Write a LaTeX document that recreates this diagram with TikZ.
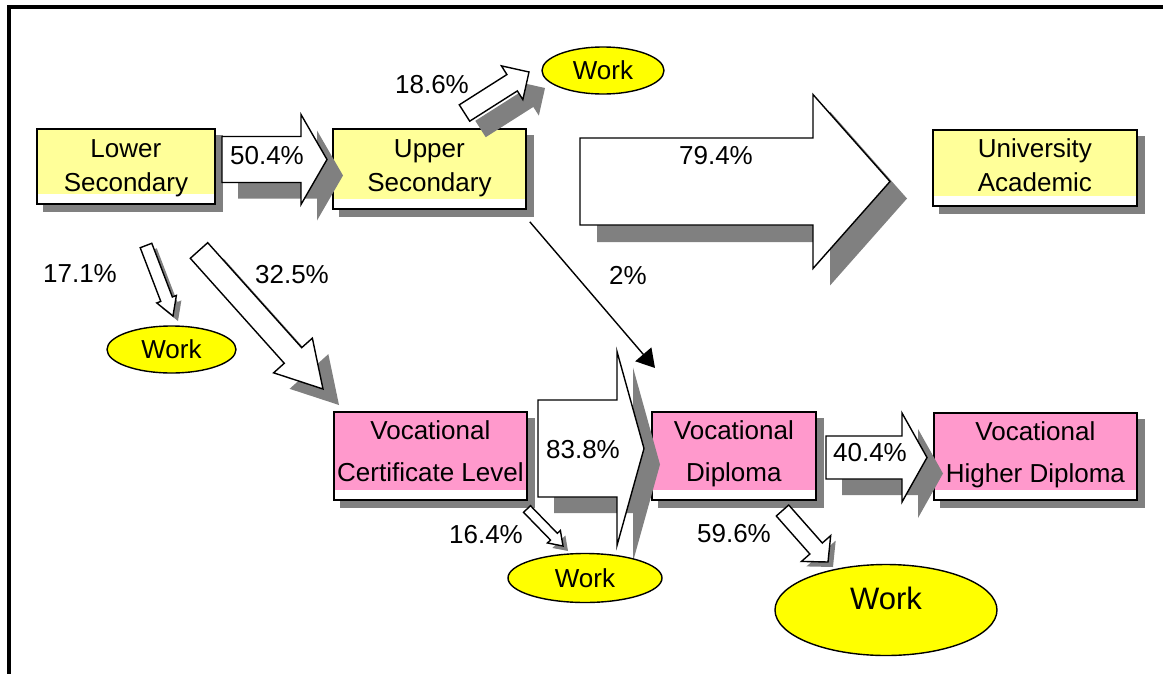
\documentclass[tikz,border=0pt]{standalone}
\usepackage{fontspec}
\setmainfont{Liberation Sans}
\usetikzlibrary{calc,shapes.geometric,arrows.meta}
\pgfdeclarelayer{background}
\pgfsetlayers{background,main}
\definecolor{ylw}{HTML}{FFFF99}
\definecolor{pnk}{HTML}{FF99CC}
\definecolor{wyl}{HTML}{FFFF00}
\definecolor{shadowgray}{HTML}{808080}
\newcommand\blockarrow[6]{%
  \coordinate (bh) at ($(#2)!#5pt!(#1)$);
  \coordinate (a1) at ($(#1)!#3pt!90:(#2)$);
  \coordinate (a2) at ($(#1)!#3pt!-90:(#2)$);
  \coordinate (b1) at ($(bh)!#3pt!90:(#2)$);
  \coordinate (b2) at ($(bh)!#3pt!-90:(#2)$);
  \coordinate (c1) at ($(bh)!#4pt!90:(#2)$);
  \coordinate (c2) at ($(bh)!#4pt!-90:(#2)$);
  \fill[shadowgray] ($(a1)+(#6,#6)$) -- ($(b1)+(#6,#6)$) -- ($(c1)+(#6,#6)$) -- ($(#2)+(#6,#6)$) -- ($(c2)+(#6,#6)$) -- ($(b2)+(#6,#6)$) -- ($(a2)+(#6,#6)$) -- cycle;
  \draw[barrow] (a1) -- (b1) -- (c1) -- (#2) -- (c2) -- (b2) -- (a2) -- cycle;
}
\begin{document}
\begin{tikzpicture}[x=1pt,y=-1pt,
  stage/.style={draw=black, line width=1.8pt, fill=white, inner sep=0pt, anchor=north west,
    path picture={\fill[#1] (path picture bounding box.north west) rectangle ([yshift=10pt]path picture bounding box.south east);}},
  ystage/.style={stage=ylw, font=\fontsize{26}{34}\selectfont},
  pstage/.style={stage=pnk, font=\fontsize{26}{42}\selectfont},
  barrow/.style={draw=black, fill=white, line width=1.4pt, line join=miter},
  work/.style={ellipse, draw=black, fill=wyl, line width=1.4pt, inner sep=0pt, font=\fontsize{26}{30}\selectfont},
  lbl/.style={inner sep=0pt, font=\fontsize{26}{30}\selectfont},
  frame/.style={line width=4pt, line cap=rect, line join=miter}
]
\useasboundingbox (0,0) rectangle (1163,673);
\draw[frame] (9,673) -- (9,7) -- (1163,7);

% stages
\node[ystage, minimum width=178pt, text height=28.3pt, text depth=46.7pt] (ls) at (36,128)
  {\begin{tabular}[t]{@{}c@{}}Lower\\Secondary\end{tabular}};
\node[ystage, minimum width=193pt, text height=28.3pt, text depth=51.7pt] (us) at (332,128)
  {\begin{tabular}[t]{@{}c@{}}Upper\\Secondary\end{tabular}};
\node[ystage, minimum width=204pt, text height=27.8pt, text depth=48.2pt] (ua) at (932,129)
  {\begin{tabular}[t]{@{}c@{}}University\\Academic\end{tabular}};
\node[pstage, minimum width=193pt, text height=27.8pt, text depth=60.2pt] (vc) at (333,411)
  {\begin{tabular}[t]{@{}c@{}}Vocational\\Certificate Level\end{tabular}};
\node[pstage, minimum width=164pt, text height=27.8pt, text depth=60.2pt] (vd) at (651,411)
  {\begin{tabular}[t]{@{}c@{}}Vocational\\Diploma\end{tabular}};
\node[pstage, minimum width=203pt, text height=27.8pt, text depth=59.2pt] (vh) at (933,412)
  {\begin{tabular}[t]{@{}c@{}}Vocational\\Higher Diploma\end{tabular}};
\begin{pgfonlayer}{background}
  \fill[white] (0,0) rectangle (1163,673);
  \foreach \n in {ls,us,ua,vc,vd,vh}
    \fill[shadowgray] ([shift={(7,7)}]\n.north west) rectangle ([shift={(7,7)}]\n.south east);
\end{pgfonlayer}

% block arrows
\coordinate (t504) at (222,159.5);  \coordinate (h504) at (327,159.5);
\blockarrow{t504}{h504}{23}{45}{26}{16}
\coordinate (t794) at (580,181.5);  \coordinate (h794) at (890,181.5);
\blockarrow{t794}{h794}{43.5}{87}{77}{17}
\coordinate (t838) at (538,448.5);  \coordinate (h838) at (644,448.5);
\blockarrow{t838}{h838}{48.5}{97}{27}{16}
\coordinate (t404) at (826,457.5);  \coordinate (h404) at (927,457.5);
\blockarrow{t404}{h404}{21.5}{44.5}{25}{16}
\coordinate (t186) at (464.5,113);  \coordinate (h186) at (529,72);
\blockarrow{t186}{h186}{9.7}{20}{20}{16}
\coordinate (t171) at (146,245.5);  \coordinate (h171) at (173,316);
\blockarrow{t171}{h171}{6.2}{10.5}{18}{5}
\coordinate (t325) at (199,250.5);  \coordinate (h325) at (323,389);
\blockarrow{t325}{h325}{11.7}{26}{45}{16}
\coordinate (t164) at (527,509);    \coordinate (h164) at (563,546);
\blockarrow{t164}{h164}{4.8}{9}{13}{5}
\coordinate (t596) at (782.5,510.5); \coordinate (h596) at (828,562);
\blockarrow{t596}{h596}{8.3}{19.5}{18}{5}

% work ellipses
\node[work, minimum width=122pt, minimum height=47pt] (wA) at (603,70.5) {Work};
\node[work, minimum width=129pt, minimum height=47pt] (wB) at (171.5,349.5) {Work};
\node[work, minimum width=154pt, minimum height=49pt] (wC) at (585,578) {Work};
\node[work, minimum width=222pt, minimum height=91pt, font=\fontsize{31}{36}\selectfont, text depth=24pt] (wD) at (886,610) {Work};

% 2% connector
\coordinate (twoend) at (655,368);
\draw[line width=1.4pt, -{Triangle[length=18pt,width=21pt]}] ([shift={(3,12)}]us.south east) -- (twoend);

% labels
\node[lbl] (l504) at (267,156) {50.4\%};
\node[lbl] (l186) at (432,85) {18.6\%};
\node[lbl] (l794) at (716,156) {79.4\%};
\node[lbl] (l171) at (80,274) {17.1\%};
\node[lbl] (l325) at (292,275) {32.5\%};
\node[lbl] (l2) at (628,275) {2\%};
\node[lbl] (l838) at (583,450) {83.8\%};
\node[lbl] (l164) at (486,535) {16.4\%};
\node[lbl] (l596) at (734,534) {59.6\%};
\node[lbl] (l404) at (870,453) {40.4\%};
\end{tikzpicture}
\end{document}
